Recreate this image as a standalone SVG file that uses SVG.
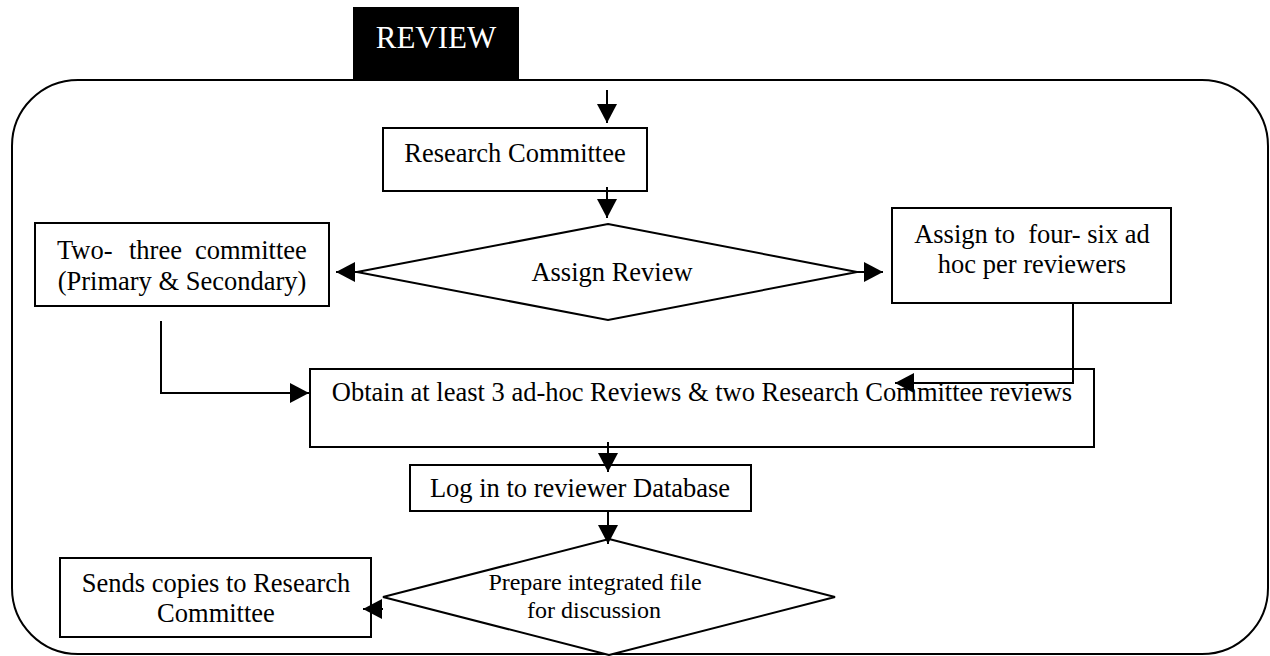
<svg xmlns="http://www.w3.org/2000/svg" width="1270" height="656" viewBox="0 0 1270 656">
<defs>
<marker id="ah" markerUnits="userSpaceOnUse" markerWidth="20" markerHeight="20" refX="19" refY="10" orient="auto">
<path d="M0,0 L19,10 L0,20 Z" fill="#000"/>
</marker>
<style>
.bx{fill:#fff;stroke:#000;stroke-width:2}
.t{font-family:"Liberation Serif","Times New Roman",serif;font-size:26.5px;fill:#000}
.ts{font-family:"Liberation Serif","Times New Roman",serif;font-size:24px;fill:#000}
.c{text-anchor:middle}
.ln{fill:none;stroke:#000;stroke-width:2}
</style>
</defs>
<rect width="1270" height="656" fill="#fff"/>
<g id="frame">
<rect x="12" y="80" width="1256" height="574" rx="66" ry="66" class="ln"/>
</g>
<g id="review-title">
<rect x="353" y="7" width="166" height="74" fill="#000"/>
<text x="436" y="48" class="c" style="font-family:'Liberation Serif','Times New Roman',serif;font-size:31px;fill:#fff">REVIEW</text>
</g>
<g id="research-committee">
<rect x="383" y="128" width="264" height="63" class="bx"/>
<text x="515" y="162" class="t c">Research Committee</text>
</g>
<g id="assign-review">
<polygon points="608,224 857,272 608,320 357,272" class="bx"/>
<text x="612" y="281" class="t c">Assign Review</text>
</g>
<g id="two-three">
<rect x="35" y="223" width="294" height="83" class="bx"/>
<text y="259" class="t"><tspan x="57">Two-</tspan><tspan x="129">three</tspan><tspan x="195">committee</tspan></text>
<text x="182" y="290" class="t c">(Primary &amp; Secondary)</text>
</g>
<g id="assign-adhoc">
<rect x="892" y="208" width="279" height="95" class="bx"/>
<text x="1032" y="243" class="t c" style="white-space:pre">Assign to  four- six ad</text>
<text x="1032" y="273" class="t c">hoc per reviewers</text>
</g>
<g id="obtain">
<rect x="310" y="369" width="784" height="78" class="bx"/>
<text x="702" y="401" class="t c">Obtain at least 3 ad-hoc Reviews &amp; two Research Committee reviews</text>
</g>
<g id="log-in">
<rect x="410" y="465" width="341" height="46" class="bx"/>
<text x="580" y="497" class="t c">Log in to reviewer Database</text>
</g>
<g id="prepare">
<polygon points="609,539 835,597 609,655 383,597" class="bx"/>
<text x="595" y="590" class="ts c">Prepare integrated file</text>
<text x="594" y="618" class="ts c">for discussion</text>
</g>
<g id="sends">
<rect x="60" y="558" width="311" height="79" class="bx"/>
<text x="216" y="592" class="t c">Sends copies to Research</text>
<text x="216" y="622" class="t c">Committee</text>
</g>
<g id="connectors">
<path d="M607,90 L607,123" class="ln" marker-end="url(#ah)"/>
<path d="M607,187 L607,218" class="ln" marker-end="url(#ah)"/>
<path d="M357,272 L336,272" class="ln" marker-end="url(#ah)"/>
<path d="M857,272 L883,272" class="ln" marker-end="url(#ah)"/>
<path d="M161,321 L161,393 L309,393" class="ln" marker-end="url(#ah)"/>
<path d="M1073,303 L1073,383 L895,383" class="ln" marker-end="url(#ah)"/>
<path d="M608,442 L608,472" class="ln" marker-end="url(#ah)"/>
<path d="M608,511 L608,544" class="ln" marker-end="url(#ah)"/>
<path d="M383,609 L363,609" class="ln" marker-end="url(#ah)"/>
</g>
</svg>
